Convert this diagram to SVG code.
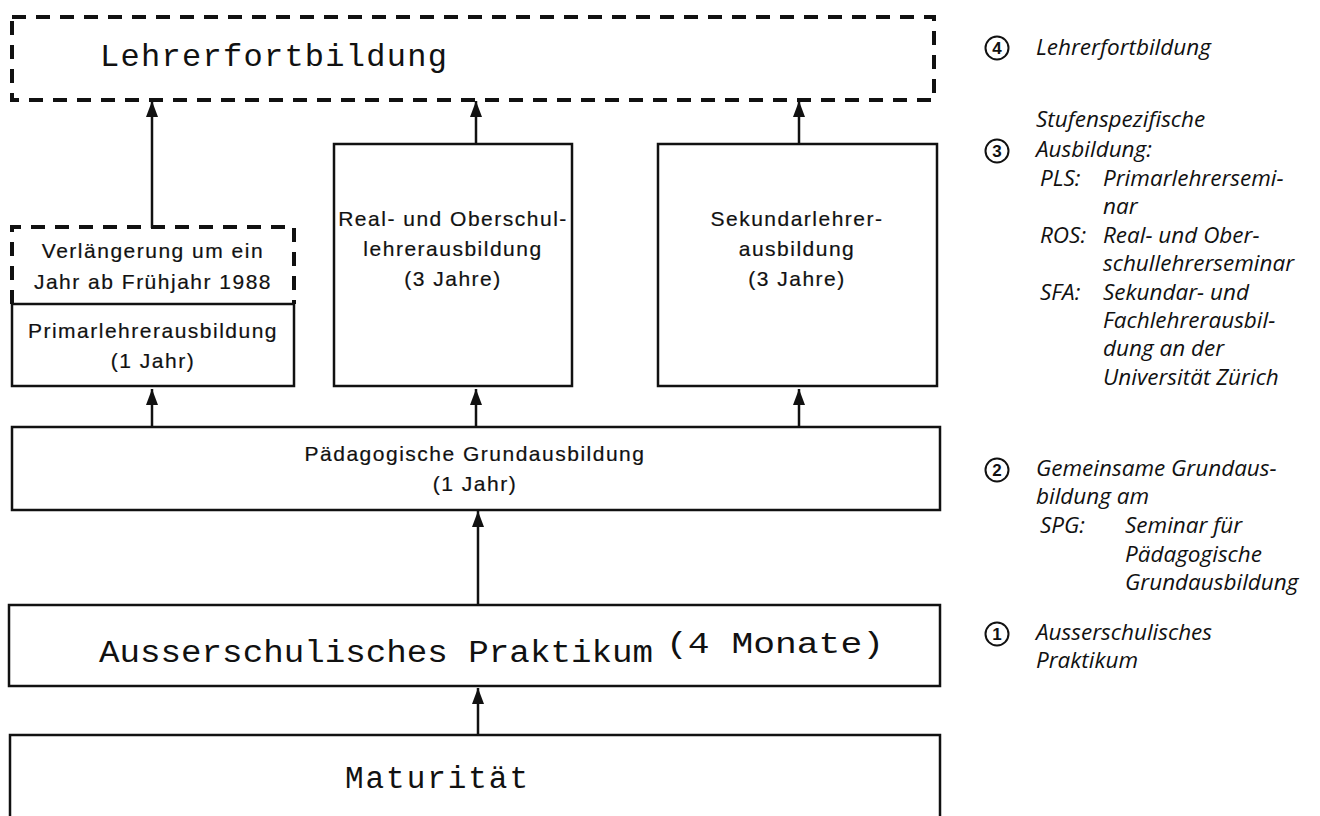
<svg xmlns="http://www.w3.org/2000/svg" width="1320" height="816" viewBox="0 0 1320 816">
<defs>
<marker id="ah" markerWidth="17" markerHeight="13" refX="16" refY="6.5" orient="auto" markerUnits="userSpaceOnUse" viewBox="0 0 17 13">
<path d="M0,0.5 L16,6.5 L0,12.5 Z" fill="#111"/>
</marker>
<style>
.box{fill:#fff;stroke:#111;stroke-width:2.5}
.dash{fill:none;stroke:#111;stroke-width:4;stroke-dasharray:14 10}
.mono{font-family:"Liberation Mono","Courier New",monospace;fill:#111}
.sans{font-family:"Liberation Sans",Arial,sans-serif;font-size:21px;fill:#111;stroke:#111;stroke-width:0.2;text-anchor:middle;letter-spacing:1.5px}
.leg{font-family:"Open Sans","Lato",sans-serif;font-style:italic;font-size:22.5px;fill:#111}
.num{font-family:"Liberation Sans",Arial,sans-serif;font-weight:bold;font-size:17px;fill:#111;text-anchor:middle}
.circ{fill:none;stroke:#111;stroke-width:2}
.conn{stroke:#111;stroke-width:2.5;fill:none}
</style>
</defs>
<rect width="1320" height="816" fill="#fff"/>

<g id="connectors">
<line class="conn" x1="152" y1="228" x2="152" y2="101" marker-end="url(#ah)"/>
<line class="conn" x1="476" y1="144" x2="476" y2="101" marker-end="url(#ah)"/>
<line class="conn" x1="799" y1="144" x2="799" y2="101" marker-end="url(#ah)"/>
<line class="conn" x1="152" y1="427" x2="152" y2="389" marker-end="url(#ah)"/>
<line class="conn" x1="476" y1="427" x2="476" y2="389" marker-end="url(#ah)"/>
<line class="conn" x1="799" y1="427" x2="799" y2="389" marker-end="url(#ah)"/>
<line class="conn" x1="478" y1="605" x2="478" y2="511" marker-end="url(#ah)"/>
<line class="conn" x1="478" y1="735" x2="478" y2="688" marker-end="url(#ah)"/>
</g>

<g id="lehrerfortbildung">
<rect class="dash" x="12" y="17" width="922" height="83"/>
<text class="mono" x="100" y="66" font-size="32" textLength="347" lengthAdjust="spacing">Lehrerfortbildung</text>
</g>

<g id="verlaengerung">
<path class="dash" d="M12,304 L12,227 L294,227 L294,304"/>
<text class="sans" x="153" y="258">Verlängerung um ein</text>
<text class="sans" x="153" y="289">Jahr ab Frühjahr 1988</text>
</g>

<g id="primar">
<rect class="box" x="12" y="304" width="282" height="82"/>
<text class="sans" x="153" y="338">Primarlehrerausbildung</text>
<text class="sans" x="153" y="368">(1 Jahr)</text>
</g>

<g id="real">
<rect class="box" x="334" y="144" width="238" height="242"/>
<text class="sans" x="453" y="226">Real- und Oberschul-</text>
<text class="sans" x="453" y="256">lehrerausbildung</text>
<text class="sans" x="453" y="286">(3 Jahre)</text>
</g>

<g id="sekundar">
<rect class="box" x="658" y="144" width="279" height="242"/>
<text class="sans" x="797" y="226">Sekundarlehrer-</text>
<text class="sans" x="797" y="256">ausbildung</text>
<text class="sans" x="797" y="286">(3 Jahre)</text>
</g>

<g id="paedagogische">
<rect class="box" x="12" y="427" width="928" height="83"/>
<text class="sans" x="475" y="461">Pädagogische Grundausbildung</text>
<text class="sans" x="475" y="491">(1 Jahr)</text>
</g>

<g id="praktikum">
<rect class="box" x="9" y="605" width="931" height="81"/>
<text class="mono" x="99" y="662" font-size="31" textLength="554" lengthAdjust="spacingAndGlyphs">Ausserschulisches Praktikum</text>
<text class="mono" x="666" y="653" font-size="30" textLength="218" lengthAdjust="spacingAndGlyphs">(4 Monate)</text>
</g>

<g id="maturitaet">
<rect class="box" x="10" y="735" width="930" height="100"/>
<text class="mono" x="345" y="788" font-size="31" textLength="183" lengthAdjust="spacing">Maturität</text>
</g>

<g id="legend">
<circle class="circ" cx="997" cy="48" r="11.5"/><text class="num" x="997" y="54">4</text>
<text class="leg" x="1036" y="55">Lehrerfortbildung</text>

<circle class="circ" cx="997" cy="151" r="11.5"/><text class="num" x="997" y="157">3</text>
<text class="leg" x="1036" y="127">Stufenspezifische</text>
<text class="leg" x="1036" y="157">Ausbildung:</text>
<text class="leg" x="1040" y="186">PLS:</text><text class="leg" x="1103" y="186">Primarlehrersemi-</text>
<text class="leg" x="1103" y="214">nar</text>
<text class="leg" x="1040" y="243">ROS:</text><text class="leg" x="1103" y="243">Real- und Ober-</text>
<text class="leg" x="1103" y="271">schullehrerseminar</text>
<text class="leg" x="1040" y="300">SFA:</text><text class="leg" x="1103" y="300">Sekundar- und</text>
<text class="leg" x="1103" y="328">Fachlehrerausbil-</text>
<text class="leg" x="1103" y="356">dung an der</text>
<text class="leg" x="1103" y="385">Universität Zürich</text>

<circle class="circ" cx="997" cy="470" r="11.5"/><text class="num" x="997" y="476">2</text>
<text class="leg" x="1036" y="476">Gemeinsame Grundaus-</text>
<text class="leg" x="1036" y="504">bildung am</text>
<text class="leg" x="1040" y="533">SPG:</text><text class="leg" x="1125" y="533">Seminar für</text>
<text class="leg" x="1125" y="562">Pädagogische</text>
<text class="leg" x="1125" y="590">Grundausbildung</text>

<circle class="circ" cx="997" cy="634" r="11.5"/><text class="num" x="997" y="640">1</text>
<text class="leg" x="1036" y="640">Ausserschulisches</text>
<text class="leg" x="1036" y="668">Praktikum</text>
</g>
</svg>
